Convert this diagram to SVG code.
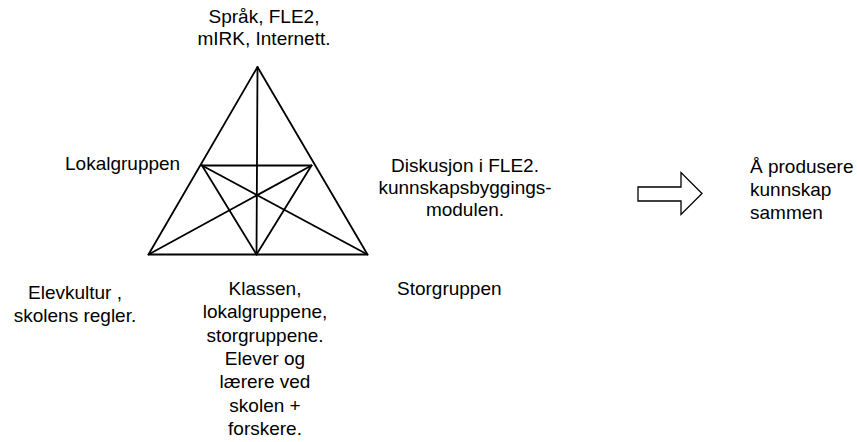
<svg xmlns="http://www.w3.org/2000/svg" width="857" height="442" viewBox="0 0 857 442">
  <style>
    .lbl { font-family: "Liberation Sans", Arial, sans-serif; font-size: 19px; fill: #000; }
    .mid { text-anchor: middle; }
    .edge { fill: none; stroke: #000; stroke-width: 1.8; stroke-linecap: round; stroke-linejoin: round; }
    .arrow { fill: #fff; stroke: #000; stroke-width: 1.3; stroke-linejoin: miter; }
  </style>
  <rect width="857" height="442" fill="#fff"/>

  <!-- triangle and its inner web of lines -->
  <g id="connectors">
    <polygon class="edge" points="257.5,67 148.5,254.5 367.5,254.5"/>
    <line class="edge" x1="257.5" y1="67" x2="256.5" y2="254.5"/>
    <line class="edge" x1="202" y1="165.5" x2="311.5" y2="165.5"/>
    <line class="edge" x1="202" y1="165.5" x2="367.5" y2="254.5"/>
    <line class="edge" x1="311.5" y1="165.5" x2="148.5" y2="254.5"/>
    <line class="edge" x1="202" y1="165.5" x2="256.5" y2="254.5"/>
    <line class="edge" x1="311.5" y1="165.5" x2="256.5" y2="254.5"/>
  </g>

  <g id="top">
    <text class="lbl mid" x="264" y="23">Språk, FLE2,</text>
    <text class="lbl mid" x="264" y="45">mIRK, Internett.</text>
  </g>

  <g id="lokalgruppen">
    <text class="lbl" x="65" y="169.5">Lokalgruppen</text>
  </g>

  <g id="diskusjon">
    <text class="lbl mid" x="465" y="172">Diskusjon i FLE2.</text>
    <text class="lbl mid" x="465" y="194">kunnskapsbyggings-</text>
    <text class="lbl mid" x="465" y="216">modulen.</text>
  </g>

  <g id="elevkultur">
    <text class="lbl mid" x="75" y="298.5">Elevkultur ,</text>
    <text class="lbl mid" x="75" y="321.5">skolens regler.</text>
  </g>

  <g id="klassen">
    <text class="lbl mid" x="265" y="295">Klassen,</text>
    <text class="lbl mid" x="265" y="318.3">lokalgruppene,</text>
    <text class="lbl mid" x="265" y="341.6">storgruppene.</text>
    <text class="lbl mid" x="265" y="365">Elever og</text>
    <text class="lbl mid" x="265" y="388.3">lærere ved</text>
    <text class="lbl mid" x="265" y="411.6">skolen +</text>
    <text class="lbl mid" x="265" y="435">forskere.</text>
  </g>

  <g id="storgruppen">
    <text class="lbl" x="397" y="295">Storgruppen</text>
  </g>

  <g id="arrow">
    <polygon class="arrow" points="638,187 681,187 681,172.5 702,193.5 681,214.5 681,201 638,201"/>
  </g>

  <g id="result">
    <text class="lbl" x="750" y="173">Å produsere</text>
    <text class="lbl" x="750" y="196">kunnskap</text>
    <text class="lbl" x="750" y="219">sammen</text>
  </g>
</svg>
